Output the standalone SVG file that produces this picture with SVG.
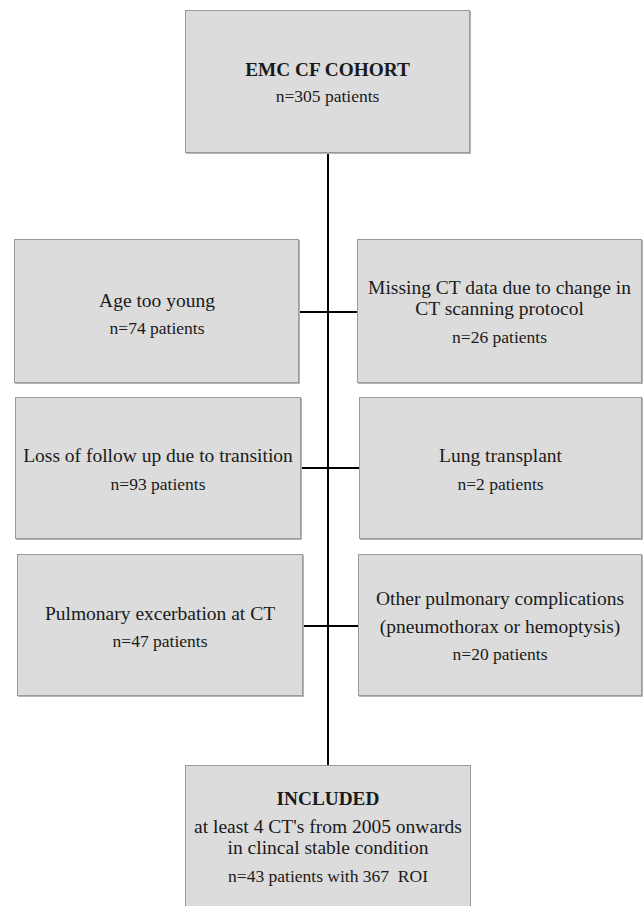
<svg xmlns="http://www.w3.org/2000/svg" width="643" height="906" viewBox="0 0 643 906">
  <defs>
    <style>
      .box { fill: #dcdcdc; stroke: #9a9a9a; stroke-width: 1; }
      .shadow { fill: #b5b5b5; }
      .conn { stroke: #000; stroke-width: 2; fill: none; }
      text { font-family: "Liberation Serif", "Times New Roman", serif; fill: #1a1a1a; text-anchor: middle; }
      .lbl { font-size: 19.5px; }
      .num { font-size: 17.5px; }
      .hd { font-size: 19.3px; font-weight: bold; }
    </style>
  </defs>
  <rect width="643" height="906" fill="#ffffff"/>

  <g id="connectors">
    <line class="conn" x1="328" y1="153" x2="328" y2="765"/>
    <line class="conn" x1="299" y1="312" x2="357" y2="312"/>
    <line class="conn" x1="301" y1="468" x2="359" y2="468"/>
    <line class="conn" x1="303" y1="626" x2="358" y2="626"/>
  </g>

  <g id="cohort">
    <rect class="shadow" x="186" y="11" width="285" height="143"/>
    <rect class="box" x="185.5" y="10.5" width="284" height="142"/>
    <text class="hd" x="327.5" y="76">EMC CF COHORT</text>
    <text class="num" x="327.5" y="102">n=305 patients</text>
  </g>

  <g id="age">
    <rect class="shadow" x="15" y="240" width="285" height="144"/>
    <rect class="box" x="14.5" y="239.5" width="284" height="143"/>
    <text class="lbl" x="157" y="307">Age too young</text>
    <text class="num" x="157" y="334">n=74 patients</text>
  </g>

  <g id="missing">
    <rect class="shadow" x="358" y="240" width="285" height="144"/>
    <rect class="box" x="357.5" y="239.5" width="284" height="143"/>
    <text class="lbl" x="499.5" y="294">Missing CT data due to change in</text>
    <text class="lbl" x="499.5" y="315">CT scanning protocol</text>
    <text class="num" x="499.5" y="343">n=26 patients</text>
  </g>

  <g id="loss">
    <rect class="shadow" x="16" y="398" width="286" height="142"/>
    <rect class="box" x="15.5" y="397.5" width="285" height="141"/>
    <text class="lbl" x="158" y="462">Loss of follow up due to transition</text>
    <text class="num" x="158" y="490">n=93 patients</text>
  </g>

  <g id="transplant">
    <rect class="shadow" x="360" y="398" width="284" height="142"/>
    <rect class="box" x="359.5" y="397.5" width="282" height="141"/>
    <text class="lbl" x="500.5" y="462">Lung transplant</text>
    <text class="num" x="500.5" y="490">n=2 patients</text>
  </g>

  <g id="exacerbation">
    <rect class="shadow" x="18" y="555" width="286" height="142"/>
    <rect class="box" x="17.5" y="554.5" width="285" height="141"/>
    <text class="lbl" x="160" y="620">Pulmonary excerbation at CT</text>
    <text class="num" x="160" y="647">n=47 patients</text>
  </g>

  <g id="complications">
    <rect class="shadow" x="359" y="555" width="284" height="142"/>
    <rect class="box" x="358.5" y="554.5" width="283" height="141"/>
    <text class="lbl" x="500" y="605">Other pulmonary complications</text>
    <text class="lbl" x="500" y="633">(pneumothorax or hemoptysis)</text>
    <text class="num" x="500" y="660">n=20 patients</text>
  </g>

  <g id="included">
    <rect class="box" x="185.5" y="765.5" width="285" height="150"/>
    <text class="hd" x="328" y="805">INCLUDED</text>
    <text class="lbl" x="328" y="833">at least 4 CT's from 2005 onwards</text>
    <text class="lbl" x="328" y="854">in clincal stable condition</text>
    <text class="num" x="328" y="882" xml:space="preserve" style="white-space: pre">n=43 patients with 367  ROI</text>
  </g>
</svg>
